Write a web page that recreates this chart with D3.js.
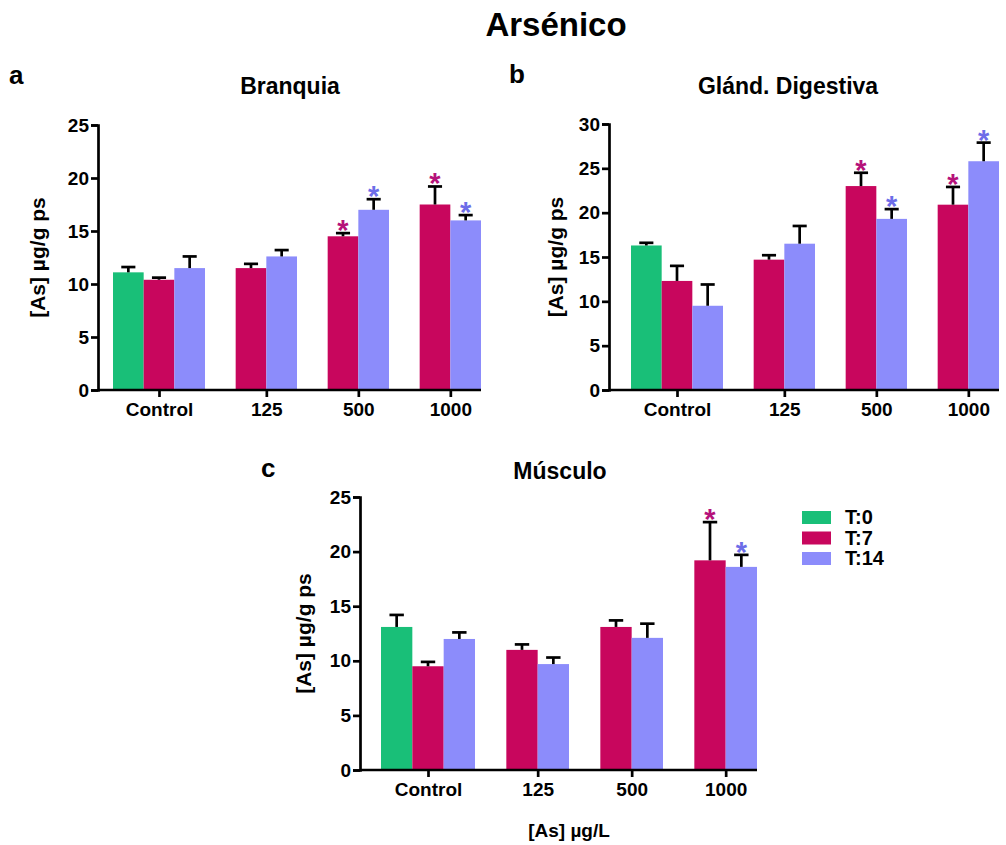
<!DOCTYPE html>
<html>
<head>
<meta charset="utf-8">
<script src="https://cdn.jsdelivr.net/npm/d3@7"></script>
<style>
  body { margin: 0; background: #fff; }
  svg text { font-family: "Liberation Sans", Arial, sans-serif; font-weight: bold; fill: #000; }
</style>
</head>
<body>
<div id="chart"></div>
<script>
'use strict';

// categories and series
var categories = ["Control", "125", "500", "1000"];
var seriesNames = ["T:0", "T:7", "T:14"];
var seriesColors = ["#19bf78", "#c8065d", "#8c8cfb"];
var starColors = ["#19bf78", "#b5127a", "#6d6de8"];

// a - Branquia (mean, SEM), one row per series
var branquiaMean = [[11.1, null, null, null], [10.4, 11.5, 14.5, 17.5], [11.5, 12.6, 17.0, 16.0]];
var branquiaErr  = [[0.5, null, null, null], [0.2, 0.4, 0.3, 1.7], [1.1, 0.6, 1.0, 0.5]];
var branquiaStar = [[0, 0, 0, 0], [0, 0, 1, 1], [0, 0, 1, 1]];

// b - Gland. Digestiva
var digestivaMean = [[16.3, null, null, null], [12.3, 14.7, 23.0, 20.9], [9.5, 16.5, 19.3, 25.8]];
var digestivaErr  = [[0.3, null, null, null], [1.7, 0.5, 1.5, 2.0], [2.4, 2.0, 1.1, 2.1]];
var digestivaStar = [[0, 0, 0, 0], [0, 0, 1, 1], [0, 0, 1, 1]];

// c - Musculo
var musculoMean = [[13.1, null, null, null], [9.5, 11.0, 13.1, 19.2], [12.0, 9.7, 12.1, 18.6]];
var musculoErr  = [[1.1, null, null, null], [0.4, 0.5, 0.6, 3.5], [0.6, 0.6, 1.3, 1.1]];
var musculoStar = [[0, 0, 0, 0], [0, 0, 0, 1], [0, 0, 0, 1]];

var yTicksA = [0, 5, 10, 15, 20, 25];
var yTicksB = [0, 5, 10, 15, 20, 25, 30];
var yTicksC = [0, 5, 10, 15, 20, 25];

var svg = d3.select("#chart").append("svg")
    .attr("width", 1006)
    .attr("height", 845);

// main title
svg.append("text").attr("x", 556).attr("y", 36)
    .attr("text-anchor", "middle").style("font-size", "33px")
    .text("Arsénico");

function drawPanel(p) {
    var g = svg.append("g");

    // group band and inner band for series
    var x0 = d3.scaleBand().domain(categories).range(p.xRange).padding(0);
    var x1 = d3.scaleBand().domain(d3.range(seriesNames.length)).range([0, x0.bandwidth()]).padding(0);
    var y = d3.scaleLinear().domain([0, d3.max(p.ticks)]).range(p.yRange);

    // flatten data
    var rows = [];
    p.mean.forEach(function(vals, s) {
        vals.forEach(function(v, c) {
            if (v == null) return;
            rows.push({s: s, c: categories[c], v: v, e: p.err[s][c], star: p.star[s][c]});
        });
    });

    // bars
    g.selectAll("rect.bar").data(rows).enter().append("rect")
        .attr("class", "bar")
        .attr("x", function(d) { return x0(d.c) + x1(d.s); })
        .attr("width", x1.bandwidth())
        .attr("y", function(d) { return y(d.v); })
        .attr("height", function(d) { return y(0) - y(d.v); })
        .attr("fill", function(d) { return seriesColors[d.s]; });

    // upper error bars
    var cap = x1.bandwidth() * 0.23;
    var eb = g.selectAll("g.err").data(rows).enter().append("g")
        .attr("transform", function(d) { return "translate(" + (x0(d.c) + x1(d.s) + x1.bandwidth() / 2) + ",0)"; });
    eb.append("line")
        .attr("y1", function(d) { return y(d.v); })
        .attr("y2", function(d) { return y(d.v + d.e); })
        .attr("stroke", "#000").attr("stroke-width", 2.7);
    eb.append("line")
        .attr("x1", -cap).attr("x2", cap)
        .attr("y1", function(d) { return y(d.v + d.e); })
        .attr("y2", function(d) { return y(d.v + d.e); })
        .attr("stroke", "#000").attr("stroke-width", 2.7);

    // significance stars
    eb.filter(function(d) { return d.star; }).append("text")
        .attr("y", function(d) { return y(d.v + d.e) + 7; })
        .attr("text-anchor", "middle")
        .style("font-size", "29px")
        .style("fill", function(d) { return starColors[d.s]; })
        .text("*");

    // y axis
    var yAxis = g.append("g")
        .attr("transform", "translate(" + p.yAxisX + ",0)")
        .call(d3.axisLeft(y).tickValues(p.ticks).tickSize(7).tickPadding(2));
    yAxis.selectAll("text").style("font-size", "19px");

    // x axis: tick under the bars that are present in each group
    var centers = categories.map(function(c) {
        var ss = rows.filter(function(d) { return d.c === c; }).map(function(d) { return d.s; });
        return x0(c) + (x1(d3.min(ss)) + x1(d3.max(ss)) + x1.bandwidth()) / 2;
    });
    var xTick = d3.scaleOrdinal().domain(categories).range(centers);
    var xAxis = g.append("g")
        .attr("transform", "translate(0," + y(0) + ")")
        .call(d3.axisBottom(xTick).tickSize(7).tickPadding(6));
    xAxis.select(".domain").remove();
    xAxis.selectAll("text").style("font-size", "19px");
    g.append("line")
        .attr("x1", p.yAxisX).attr("x2", p.xRange[1])
        .attr("y1", y(0)).attr("y2", y(0))
        .attr("stroke", "#000").attr("stroke-width", 2.7);

    g.selectAll(".domain, .tick line").attr("stroke", "#000").attr("stroke-width", 2.7);

    // labels
    g.append("text")
        .attr("transform", "translate(" + p.yLabelX + "," + (p.yRange[0] + p.yRange[1]) / 2 + ") rotate(-90)")
        .attr("text-anchor", "middle").style("font-size", "21px")
        .text("[As] µg/g ps");
    g.append("text").attr("x", p.titleX).attr("y", p.titleY)
        .attr("text-anchor", "middle").style("font-size", "23px")
        .text(p.title);
    g.append("text").attr("x", p.letterX).attr("y", p.letterY)
        .style("font-size", "26px")
        .text(p.letter);
}

drawPanel({mean: branquiaMean, err: branquiaErr, star: branquiaStar, ticks: yTicksA,
    xRange: [113, 481], yRange: [390, 125], yAxisX: 98, yLabelX: 45,
    title: "Branquia", titleX: 290, titleY: 94, letter: "a", letterX: 9, letterY: 84});

drawPanel({mean: digestivaMean, err: digestivaErr, star: digestivaStar, ticks: yTicksB,
    xRange: [631, 999], yRange: [390, 124], yAxisX: 609, yLabelX: 563,
    title: "Glánd. Digestiva", titleX: 788, titleY: 94, letter: "b", letterX: 509, letterY: 83});

drawPanel({mean: musculoMean, err: musculoErr, star: musculoStar, ticks: yTicksC,
    xRange: [381, 757], yRange: [770, 497], yAxisX: 360, yLabelX: 311,
    title: "Músculo", titleX: 560, titleY: 479, letter: "c", letterX: 261, letterY: 477});

// x axis title under panel c
svg.append("text").attr("x", 569).attr("y", 837)
    .attr("text-anchor", "middle").style("font-size", "19px")
    .text("[As] µg/L");

// legend
var legend = svg.append("g").attr("transform", "translate(802,511)");
var li = legend.selectAll("g").data(seriesNames).enter().append("g")
    .attr("transform", function(d, i) { return "translate(0," + i * 20.5 + ")"; });
li.append("rect").attr("width", 29).attr("height", 13)
    .attr("fill", function(d, i) { return seriesColors[i]; });
li.append("text").attr("x", 43).attr("y", 13)
    .style("font-size", "20px")
    .text(function(d) { return d; });
</script>
</body>
</html>
